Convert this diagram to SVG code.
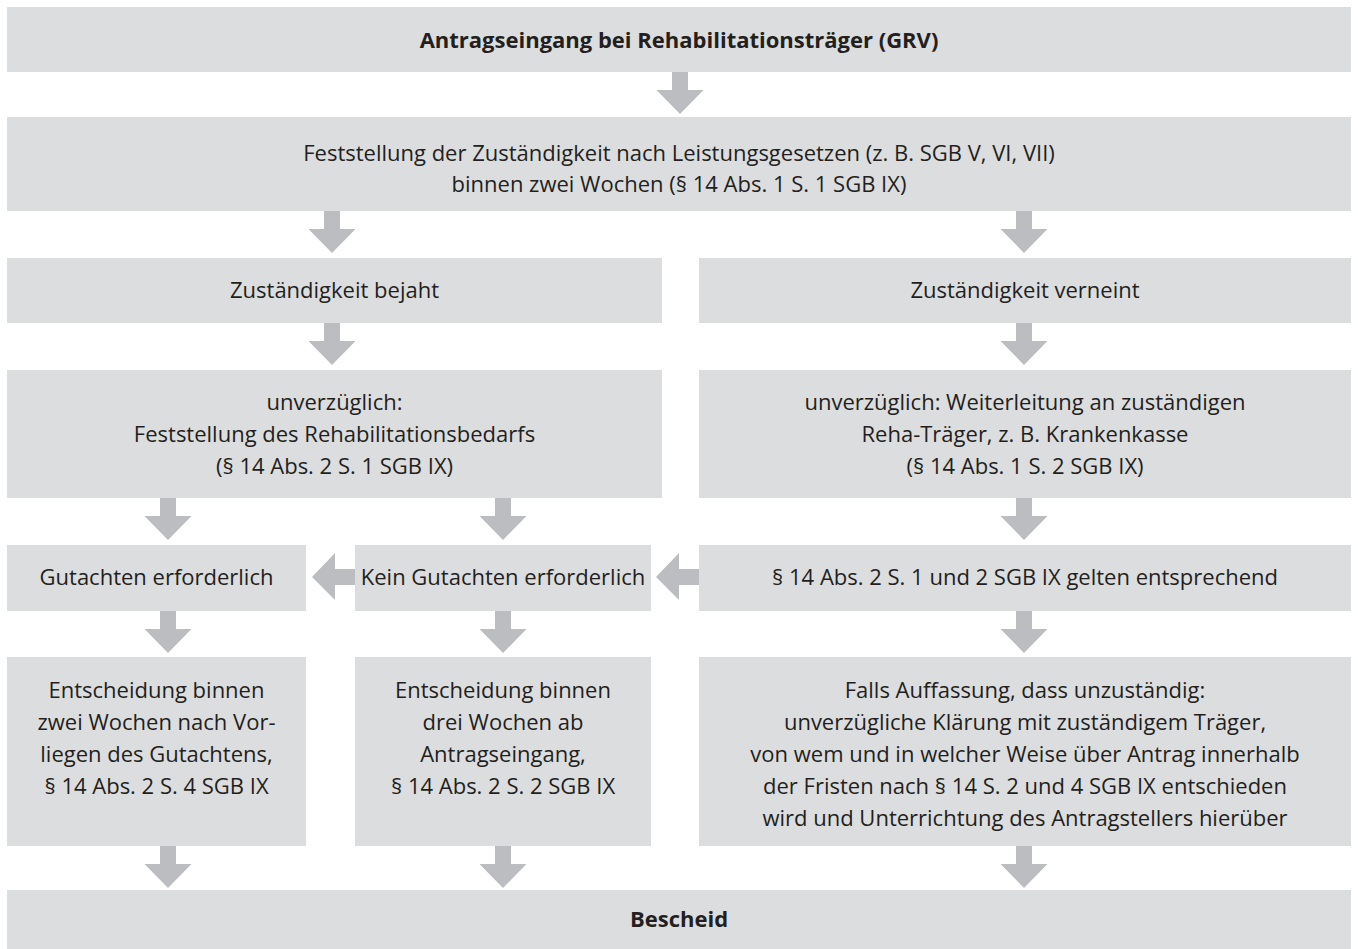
<svg xmlns="http://www.w3.org/2000/svg" width="1358" height="949" viewBox="0 0 1358 949">
<style>
.box{fill:#dcdddf}
.arr{fill:#bcbdc0}
text{font-family:"Open Sans","Noto Sans","Liberation Sans",sans-serif;font-size:22px;fill:#231f20;text-anchor:middle}
.b{font-weight:bold}
</style>
<defs>
<path id="ad" d="M-8,0 H8 V18 H23.5 L0,42 L-23.5,18 H-8 Z"/>
</defs>
<rect width="1358" height="949" fill="#fff"/>
<g id="connectors" class="arr">
<use href="#ad" x="680" y="72"/>
<use href="#ad" x="332" y="211"/>
<use href="#ad" x="1024" y="211"/>
<use href="#ad" x="332" y="323"/>
<use href="#ad" x="1024" y="323"/>
<use href="#ad" x="168" y="498"/>
<use href="#ad" x="503" y="498"/>
<use href="#ad" x="1024" y="498"/>
<use href="#ad" x="168" y="611"/>
<use href="#ad" x="503" y="611"/>
<use href="#ad" x="1024" y="611"/>
<use href="#ad" x="168" y="846"/>
<use href="#ad" x="503" y="846"/>
<use href="#ad" x="1024" y="846"/>
<path d="M355,569 V585 H335 V600 L312,577 L335,553 V569 Z"/>
<path d="M699,569 V585 H679 V600 L656,577 L679,553 V569 Z"/>
</g>
<g id="n1"><rect class="box" x="7" y="7" width="1344" height="65"/><text class="b" x="679" y="48">Antragseingang bei Rehabilitationsträger (GRV)</text></g>
<g id="n2"><rect class="box" x="7" y="117" width="1344" height="94"/><text x="679" y="161">Feststellung der Zuständigkeit nach Leistungsgesetzen (z. B. SGB V, VI, VII)</text><text x="679" y="192">binnen zwei Wochen (§ 14 Abs. 1 S. 1 SGB IX)</text></g>
<g id="n3"><rect class="box" x="7" y="258" width="655" height="65"/><text x="334.5" y="298">Zuständigkeit bejaht</text></g>
<g id="n4"><rect class="box" x="699" y="258" width="652" height="65"/><text x="1025" y="298">Zuständigkeit verneint</text></g>
<g id="n5"><rect class="box" x="7" y="370" width="655" height="128"/><text x="334.5" y="410">unverzüglich:</text><text x="334.5" y="442">Feststellung des Rehabilitationsbedarfs</text><text x="334.5" y="474">(§ 14 Abs. 2 S. 1 SGB IX)</text></g>
<g id="n6"><rect class="box" x="699" y="370" width="652" height="128"/><text x="1025" y="410">unverzüglich: Weiterleitung an zuständigen</text><text x="1025" y="442">Reha-Träger, z. B. Krankenkasse</text><text x="1025" y="474">(§ 14 Abs. 1 S. 2 SGB IX)</text></g>
<g id="n7"><rect class="box" x="7" y="545" width="299" height="66"/><text x="156.5" y="585">Gutachten erforderlich</text></g>
<g id="n8"><rect class="box" x="355" y="545" width="296" height="66"/><text x="503" y="585">Kein Gutachten erforderlich</text></g>
<g id="n9"><rect class="box" x="699" y="545" width="652" height="66"/><text x="1025" y="585">§ 14 Abs. 2 S. 1 und 2 SGB IX gelten entsprechend</text></g>
<g id="n10"><rect class="box" x="7" y="657" width="299" height="189"/><text x="156.5" y="698">Entscheidung binnen</text><text x="156.5" y="730">zwei Wochen nach Vor-</text><text x="156.5" y="762">liegen des Gutachtens,</text><text x="156.5" y="794">§ 14 Abs. 2 S. 4 SGB IX</text></g>
<g id="n11"><rect class="box" x="355" y="657" width="296" height="189"/><text x="503" y="698">Entscheidung binnen</text><text x="503" y="730">drei Wochen ab</text><text x="503" y="762">Antragseingang,</text><text x="503" y="794">§ 14 Abs. 2 S. 2 SGB IX</text></g>
<g id="n12"><rect class="box" x="699" y="657" width="652" height="189"/><text x="1025" y="698">Falls Auffassung, dass unzuständig:</text><text x="1025" y="730">unverzügliche Klärung mit zuständigem Träger,</text><text x="1025" y="762">von wem und in welcher Weise über Antrag innerhalb</text><text x="1025" y="794">der Fristen nach § 14 S. 2 und 4 SGB IX entschieden</text><text x="1025" y="826">wird und Unterrichtung des Antragstellers hierüber</text></g>
<g id="n13"><rect class="box" x="7" y="890" width="1344" height="59"/><text class="b" x="679" y="927">Bescheid</text></g>
</svg>
